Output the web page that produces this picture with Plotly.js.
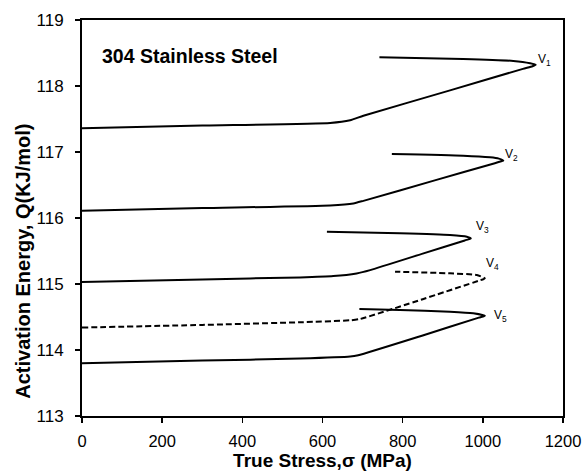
<!DOCTYPE html>
<html>
<head>
<meta charset="utf-8">
<script src="https://cdn.plot.ly/plotly-3.0.1.min.js"></script>
<style>html,body{margin:0;padding:0;background:#fff;}#chart{width:583px;height:471px;}</style>
</head>
<body>
<div id="chart"></div>
<script>
// True stress (MPa) and activation energy (kJ/mol) for each curve, traced from start to tip and back
const v1Stress = [0, 300, 619, 669, 702, 916, 1100, 1124, 1132, 1118, 1076, 951, 742];
const v1Energy = [117.36, 117.40, 117.44, 117.48, 117.55, 117.93, 118.26, 118.30, 118.32, 118.345, 118.38, 118.41, 118.435];

const v2Stress = [0, 300, 619, 677, 702, 880, 1030, 1046, 1051, 1040, 1018, 951, 773];
const v2Energy = [116.11, 116.15, 116.19, 116.22, 116.26, 116.57, 116.83, 116.86, 116.87, 116.90, 116.92, 116.945, 116.97];

const v3Stress = [0, 300, 544, 627, 685, 719, 850, 955, 966, 970, 960, 918, 793, 611];
const v3Energy = [115.03, 115.07, 115.10, 115.12, 115.16, 115.21, 115.46, 115.66, 115.68, 115.69, 115.717, 115.742, 115.768, 115.792];

const v4Stress = [0, 300, 544, 669, 694, 850, 990, 1002, 1005, 985, 918, 781];
const v4Energy = [114.34, 114.38, 114.42, 114.45, 114.47, 114.77, 115.05, 115.075, 115.086, 115.136, 115.162, 115.186];

const v5Stress = [0, 300, 544, 669, 689, 850, 990, 1002, 1005, 976, 918, 793, 692];
const v5Energy = [113.80, 113.84, 113.87, 113.90, 113.92, 114.22, 114.49, 114.51, 114.52, 114.556, 114.58, 114.606, 114.621];

const labelNames = ['V<sub>1</sub>', 'V<sub>2</sub>', 'V<sub>3</sub>', 'V<sub>4</sub>', 'V<sub>5</sub>'];
const labelStress = [1133, 1051, 978, 1004, 1023];
const labelEnergy = [118.40, 116.96, 115.86, 115.30, 114.51];

const xTicks = [0, 200, 400, 600, 800, 1000, 1200];
const yTicks = [113, 114, 115, 116, 117, 118, 119];

const FONT = 'Liberation Sans, Arial, Helvetica, sans-serif';

function curve(x, y, dash) {
  return {
    x: x, y: y, type: 'scatter', mode: 'lines',
    line: {color: '#000', width: 2, dash: dash || 'solid', shape: 'spline', smoothing: 0.5},
    hoverinfo: 'skip', showlegend: false
  };
}

const data = [
  curve(v1Stress, v1Energy),
  curve(v2Stress, v2Energy),
  curve(v3Stress, v3Energy),
  curve(v4Stress, v4Energy, '6px,3px'),
  curve(v5Stress, v5Energy)
];

const annotations = labelNames.map((t, i) => ({
  x: labelStress[i], y: labelEnergy[i], text: t, showarrow: false,
  xanchor: 'left', yanchor: 'middle',
  font: {family: FONT, size: 12, color: '#000'}
}));
annotations.push({
  x: 45, y: 118.45, text: '<b>304 Stainless Steel</b>', showarrow: false,
  xanchor: 'left', yanchor: 'middle',
  font: {family: FONT, size: 19.5, color: '#000'}
});
// y-axis title placed as a rotated annotation
annotations.push({
  xref: 'paper', yref: 'paper', x: -0.1227, y: 0.392,
  text: '<b>Activation Energy, Q(KJ/mol)</b>', showarrow: false, textangle: -90,
  xanchor: 'center', yanchor: 'middle',
  font: {family: FONT, size: 20, color: '#000'}
});

const layout = {
  width: 583, height: 471,
  margin: {l: 82, r: 20, t: 20, b: 55},
  paper_bgcolor: '#fff', plot_bgcolor: '#fff',
  font: {family: FONT, color: '#000'},
  xaxis: {
    range: [0, 1200], tickvals: xTicks, ticktext: xTicks.map(String),
    showgrid: false, zeroline: false,
    showline: true, linecolor: '#000', linewidth: 2, mirror: true,
    ticks: 'outside', ticklen: 5, tickwidth: 1.5, tickcolor: '#000',
    tickfont: {family: FONT, size: 16.5, color: '#000'},
    ticklabelstandoff: 4,
    title: {text: '<b>True Stress,σ (MPa)</b>', font: {family: FONT, size: 19, color: '#000'}, standoff: 4}
  },
  yaxis: {
    range: [113, 119], tickvals: yTicks, ticktext: yTicks.map(String),
    showgrid: false, zeroline: false,
    showline: true, linecolor: '#000', linewidth: 2, mirror: true,
    ticks: 'outside', ticklen: 5, tickwidth: 1.5, tickcolor: '#000',
    tickfont: {family: FONT, size: 17, color: '#000'},
    ticklabelstandoff: 8
  },
  annotations: annotations
};

Plotly.newPlot('chart', data, layout, {displayModeBar: false, staticPlot: true});
</script>
</body>
</html>
